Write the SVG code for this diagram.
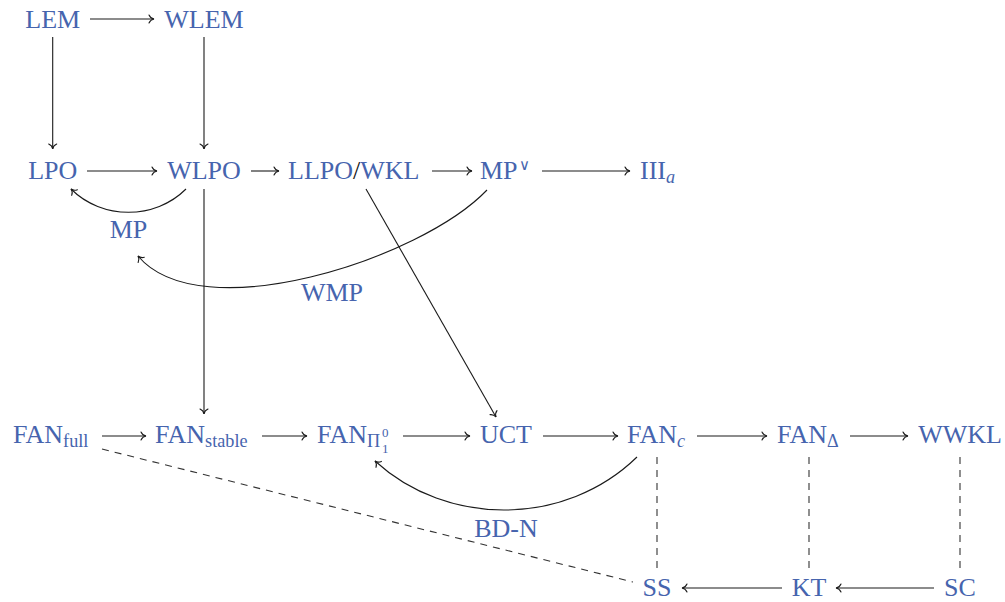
<svg xmlns="http://www.w3.org/2000/svg" width="1005" height="602" viewBox="0 0 1005 602" font-family="'Liberation Serif', 'DejaVu Serif', serif">
<style>
  text { font-family: "Liberation Serif", "DejaVu Serif", serif; }
  .t { font-size: 26px; fill: #4664ae; }
  .s { font-size: 18.2px; }
  .ss { font-size: 13px; }
  .i { font-style: italic; }
  .v { font-family: "DejaVu Sans", sans-serif; font-size: 15px; font-weight: 200; }
  .e { fill: none; stroke: #1a1a1a; stroke-width: 1.1; }
  .a { marker-end: url(#arr); }
  .d { stroke-dasharray: 7 6; stroke: #333333; }
</style>
<defs>
  <marker id="arr" markerUnits="userSpaceOnUse" orient="auto" refX="0" refY="0" markerWidth="14" markerHeight="14" viewBox="-7 -7 14 14" overflow="visible">
    <path d="M-5,-4 C-4,-1.6 -1.6,-0.3 0,0 C-1.6,0.3 -4,1.6 -5,4" fill="none" stroke="#1a1a1a" stroke-width="1.1" stroke-linecap="round"/>
  </marker>
</defs>
<rect width="1005" height="602" fill="#ffffff"/>

<g id="connectors">
  <path class="e a" d="M90,19 H154"/>
  <path class="e a" d="M52.7,37 V149"/>
  <path class="e a" d="M204,37 V149"/>
  <path class="e a" d="M87,171 H157"/>
  <path class="e a" d="M251,171 H279"/>
  <path class="e a" d="M432,171 H472"/>
  <path class="e a" d="M542,171 H630"/>
  <path class="e a" d="M204,189 V414"/>
  <path class="e a" d="M366,189 L496,417"/>
  <path class="e a" d="M102,436 H146"/>
  <path class="e a" d="M262,436 H307"/>
  <path class="e a" d="M403,436 H470"/>
  <path class="e a" d="M543,436 H618"/>
  <path class="e a" d="M697,436 H767"/>
  <path class="e a" d="M850,436 H908"/>
  <path class="e a" d="M782,588 H682"/>
  <path class="e a" d="M934,588 H836"/>
  <path class="e a" d="M186,189 C155,220 102,220 71,189"/>
  <path class="e a" d="M487,190 C420,260 200,330 138,256"/>
  <path class="e a" d="M637,457 C565,527 447,527 375,461"/>
  <path class="e d" d="M657,457 V568"/>
  <path class="e d" d="M809,457 V568"/>
  <path class="e d" d="M960,457 V568"/>
  <path class="e d" d="M102,449 L633,582"/>
  <text class="t" x="128.5" y="238" text-anchor="middle">MP</text>
  <text class="t" x="332" y="301" text-anchor="middle">WMP</text>
  <text class="t" x="506" y="537" text-anchor="middle">BD-N</text>
</g>

<g id="LEM"><text class="t" x="52.7" y="28" text-anchor="middle">LEM</text></g>
<g id="WLEM"><text class="t" x="204" y="28" text-anchor="middle">WLEM</text></g>
<g id="LPO"><text class="t" x="52.7" y="179" text-anchor="middle">LPO</text></g>
<g id="WLPO"><text class="t" x="204" y="179" text-anchor="middle">WLPO</text></g>
<g id="LLPO-WKL"><text class="t" x="288" y="179">LLPO<tspan fill="#111111">/</tspan>WKL</text></g>
<g id="MPor"><text class="t" x="480" y="179">MP</text><text class="t v" x="519" y="170">∨</text></g>
<g id="IIIa"><text class="t" x="640" y="179">III<tspan class="s i" dy="4">a</tspan></text></g>

<g id="FANfull"><text class="t" x="13" y="443">FAN<tspan class="s" dy="4">full</tspan></text></g>
<g id="FANstable"><text class="t" x="155" y="443">FAN<tspan class="s" dy="4">stable</tspan></text></g>
<g id="FANPi"><text class="t" x="317" y="443">FAN<tspan class="s" dy="4">Π</tspan></text><text class="t ss" x="382" y="437">0</text><text class="t ss" x="382" y="453">1</text></g>
<g id="UCT"><text class="t" x="506" y="443" text-anchor="middle">UCT</text></g>
<g id="FANc"><text class="t" x="627" y="443">FAN<tspan class="s i" dy="4">c</tspan></text></g>
<g id="FANDelta"><text class="t" x="777" y="443">FAN<tspan class="s" dy="4">Δ</tspan></text></g>
<g id="WWKL"><text class="t" x="960" y="443" text-anchor="middle">WWKL</text></g>

<g id="SS"><text class="t" x="657" y="596" text-anchor="middle">SS</text></g>
<g id="KT"><text class="t" x="809" y="596" text-anchor="middle">KT</text></g>
<g id="SC"><text class="t" x="960" y="596" text-anchor="middle">SC</text></g>
</svg>
